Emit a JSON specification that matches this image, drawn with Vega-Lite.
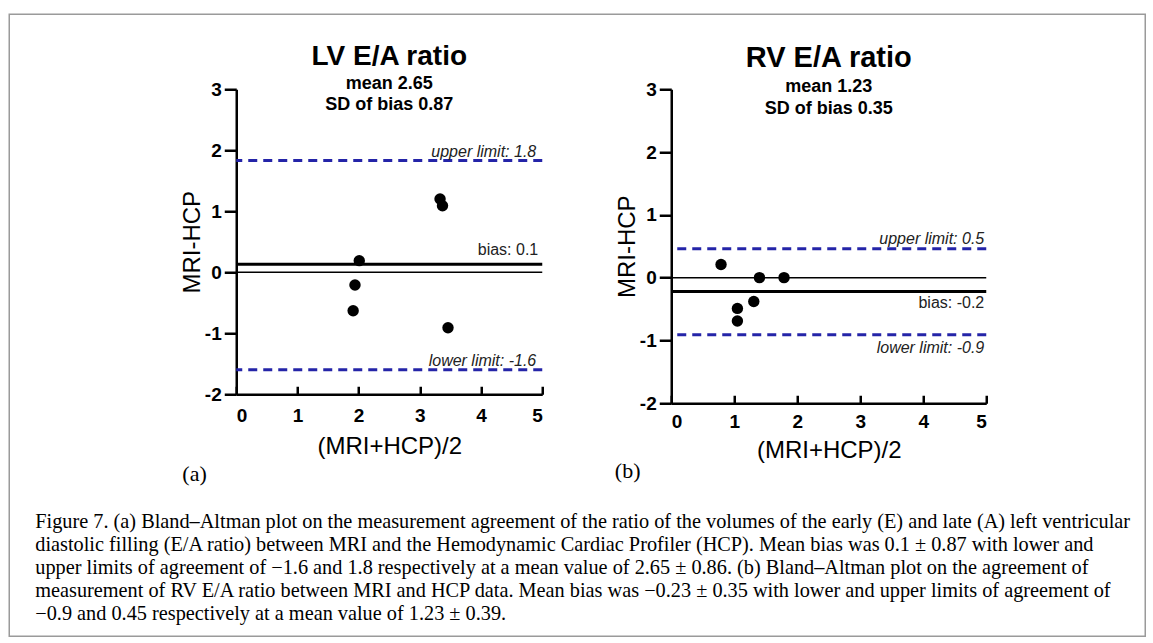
{
  "$schema": "https://vega.github.io/schema/vega-lite/v6.json",
  "bounds": "flush",
  "padding": {"left": 8.25, "top": 13.25, "right": 6, "bottom": 6},
  "background": "white",
  "spacing": 227,
  "datasets": {
    "pointsA": [
      {"mean": 1.91, "diff": -0.63},
      {"mean": 1.94, "diff": -0.21},
      {"mean": 2.01, "diff": 0.19},
      {"mean": 3.33, "diff": 1.2},
      {"mean": 3.37, "diff": 1.09},
      {"mean": 3.46, "diff": -0.91}
    ],
    "linesA": [
      {"kind": "zero", "y": 0, "label": ""},
      {"kind": "bias", "y": 0.13, "label": "bias: 0.1"},
      {"kind": "upper", "y": 1.83, "label": "upper limit: 1.8"},
      {"kind": "lower", "y": -1.6, "label": "lower limit: -1.6"}
    ],
    "pointsB": [
      {"mean": 0.79, "diff": 0.21},
      {"mean": 1.05, "diff": -0.49},
      {"mean": 1.05, "diff": -0.69},
      {"mean": 1.31, "diff": -0.38},
      {"mean": 1.4, "diff": 0.0},
      {"mean": 1.79, "diff": 0.0}
    ],
    "linesB": [
      {"kind": "zero", "y": 0, "label": ""},
      {"kind": "bias", "y": -0.22, "label": "bias: -0.2"},
      {"kind": "upper", "y": 0.46, "label": "upper limit: 0.5"},
      {"kind": "lower", "y": -0.91, "label": "lower limit: -0.9"}
    ],
    "figure": [{"part": "figure frame"}],
    "none": []
  },
  "hconcat": [
    {
      "vconcat": [
        {
          "width": 1136,
          "height": 622,
          "data": {"name": "figure"},
          "mark": {"type": "rect", "fill": "white", "stroke": "#9a9a9a", "strokeWidth": 1.5},
          "title": {
            "text": [
              "Figure 7. (a) Bland–Altman plot on the measurement agreement of the ratio of the volumes of the early (E) and late (A) left ventricular",
              "diastolic filling (E/A ratio) between MRI and the Hemodynamic Cardiac Profiler (HCP). Mean bias was 0.1 ± 0.87 with lower and",
              "upper limits of agreement of −1.6 and 1.8 respectively at a mean value of 2.65 ± 0.86. (b) Bland–Altman plot on the agreement of",
              "measurement of RV E/A ratio between MRI and HCP data. Mean bias was −0.23 ± 0.35 with lower and upper limits of agreement of",
              "−0.9 and 0.45 respectively at a mean value of 1.23 ± 0.39."
            ],
            "orient": "bottom",
            "anchor": "start",
            "frame": "group",
            "align": "left",
            "offset": -125,
            "dx": 26,
            "font": "Liberation Serif",
            "fontSize": 20.3,
            "fontWeight": "normal",
            "lineHeight": 23,
            "color": "black"
          }
        }
      ]
    },
    {
      "spacing": 28,
      "vconcat": [
        {
          "vconcat": [
            {"width": 1, "height": 1, "data": {"name": "none"}, "mark": {"type": "point"}}
          ]
        },
        {
          "spacing": 70,
          "hconcat": [
            {
              "title": {"text": "(a)", "orient": "bottom", "anchor": "start", "font": "Liberation Serif", "fontSize": 22, "fontWeight": "normal", "offset": 6, "dx": 2, "color": "black"},
              "vconcat": [
                {
                  "width": 306,
                  "height": 305,
                  "title": {
                    "text": "LV E/A ratio",
                    "subtitle": ["mean 2.65", "SD of bias 0.87"],
                    "anchor": "middle",
                    "frame": "group",
                    "font": "Liberation Sans",
                    "fontSize": 28,
                    "fontWeight": "bold",
                    "color": "black",
                    "subtitleFont": "Liberation Sans",
                    "subtitleFontSize": 18,
                    "subtitleFontWeight": "bold",
                    "subtitleColor": "black",
                    "subtitleLineHeight": 21,
                    "subtitlePadding": 4,
                    "offset": -34
                  },
                  "layer": [
                    {
                      "data": {"name": "linesA"},
                      "transform": [{"filter": "datum.kind === 'zero'"}],
                      "mark": {"type": "rule", "color": "black", "strokeWidth": 1.5},
                      "encoding": {"y": {"field": "y", "type": "quantitative", "scale": {"domain": [-2, 3], "nice": false, "zero": false}, "title": "MRI-HCP"}}
                    },
                    {
                      "data": {"name": "linesA"},
                      "transform": [{"filter": "datum.kind === 'bias'"}],
                      "mark": {"type": "rule", "color": "black", "strokeWidth": 3},
                      "encoding": {"y": {"field": "y", "type": "quantitative", "scale": {"domain": [-2, 3], "nice": false, "zero": false}, "title": "MRI-HCP"}}
                    },
                    {
                      "data": {"name": "linesA"},
                      "transform": [{"filter": "datum.kind === 'upper' || datum.kind === 'lower'"}],
                      "mark": {"type": "rule", "color": "#2424a8", "strokeWidth": 3, "strokeDash": [9, 6]},
                      "encoding": {"y": {"field": "y", "type": "quantitative", "scale": {"domain": [-2, 3], "nice": false, "zero": false}, "title": "MRI-HCP"}}
                    },
                    {
                      "data": {"name": "linesA"},
                      "transform": [{"filter": "datum.kind === 'upper' || datum.kind === 'lower'"}],
                      "mark": {"type": "text", "align": "right", "baseline": "alphabetic", "dx": -6, "dy": -4, "font": "Liberation Sans", "fontSize": 16, "fontStyle": "italic", "color": "#222222"},
                      "encoding": {
                        "x": {"datum": 5, "type": "quantitative"},
                        "y": {"field": "y", "type": "quantitative", "scale": {"domain": [-2, 3], "nice": false, "zero": false}, "title": "MRI-HCP"},
                        "text": {"field": "label"}
                      }
                    },
                    {
                      "data": {"name": "linesA"},
                      "transform": [{"filter": "datum.kind === 'bias'"}],
                      "mark": {"type": "text", "align": "right", "baseline": "alphabetic", "dx": -4, "dy": -9, "font": "Liberation Sans", "fontSize": 16, "color": "#222222"},
                      "encoding": {
                        "x": {"datum": 5, "type": "quantitative"},
                        "y": {"field": "y", "type": "quantitative", "scale": {"domain": [-2, 3], "nice": false, "zero": false}, "title": "MRI-HCP"},
                        "text": {"field": "label"}
                      }
                    },
                    {
                      "data": {"name": "pointsA"},
                      "mark": {"type": "circle", "size": 130, "color": "black", "opacity": 1},
                      "encoding": {
                        "x": {"field": "mean", "type": "quantitative", "scale": {"domain": [0, 5], "nice": false, "zero": false}, "title": "(MRI+HCP)/2", "axis": {"values": [0, 1, 2, 3, 4, 5]}},
                        "y": {"field": "diff", "type": "quantitative", "scale": {"domain": [-2, 3], "nice": false, "zero": false}, "title": "MRI-HCP", "axis": {"values": [-2, -1, 0, 1, 2, 3]}}
                      }
                    }
                  ]
                }
              ]
            },
            {
              "title": {"text": "(b)", "orient": "bottom", "anchor": "start", "font": "Liberation Serif", "fontSize": 22, "fontWeight": "normal", "offset": -1, "dx": -0.5, "color": "black"},
              "vconcat": [
                {
                  "width": 315,
                  "height": 314,
                  "title": {
                    "text": "RV E/A ratio",
                    "subtitle": ["mean 1.23", "SD of bias 0.35"],
                    "anchor": "middle",
                    "frame": "group",
                    "font": "Liberation Sans",
                    "fontSize": 29,
                    "fontWeight": "bold",
                    "color": "black",
                    "subtitleFont": "Liberation Sans",
                    "subtitleFontSize": 18,
                    "subtitleFontWeight": "bold",
                    "subtitleColor": "black",
                    "subtitleLineHeight": 22,
                    "subtitlePadding": 5,
                    "offset": -38
                  },
                  "layer": [
                    {
                      "data": {"name": "linesB"},
                      "transform": [{"filter": "datum.kind === 'zero'"}],
                      "mark": {"type": "rule", "color": "black", "strokeWidth": 1.5},
                      "encoding": {"y": {"field": "y", "type": "quantitative", "scale": {"domain": [-2, 3], "nice": false, "zero": false}, "title": "MRI-HCP"}}
                    },
                    {
                      "data": {"name": "linesB"},
                      "transform": [{"filter": "datum.kind === 'bias'"}],
                      "mark": {"type": "rule", "color": "black", "strokeWidth": 3},
                      "encoding": {"y": {"field": "y", "type": "quantitative", "scale": {"domain": [-2, 3], "nice": false, "zero": false}, "title": "MRI-HCP"}}
                    },
                    {
                      "data": {"name": "linesB"},
                      "transform": [{"filter": "datum.kind === 'upper' || datum.kind === 'lower'"}],
                      "mark": {"type": "rule", "color": "#2424a8", "strokeWidth": 3, "strokeDash": [9, 6]},
                      "encoding": {"y": {"field": "y", "type": "quantitative", "scale": {"domain": [-2, 3], "nice": false, "zero": false}, "title": "MRI-HCP"}}
                    },
                    {
                      "data": {"name": "linesB"},
                      "transform": [{"filter": "datum.kind === 'upper'"}],
                      "mark": {"type": "text", "align": "right", "baseline": "alphabetic", "dx": -2, "dy": -5, "font": "Liberation Sans", "fontSize": 16, "fontStyle": "italic", "color": "#222222"},
                      "encoding": {
                        "x": {"datum": 5, "type": "quantitative"},
                        "y": {"field": "y", "type": "quantitative", "scale": {"domain": [-2, 3], "nice": false, "zero": false}, "title": "MRI-HCP"},
                        "text": {"field": "label"}
                      }
                    },
                    {
                      "data": {"name": "linesB"},
                      "transform": [{"filter": "datum.kind === 'lower'"}],
                      "mark": {"type": "text", "align": "right", "baseline": "top", "dx": -2, "dy": 5, "font": "Liberation Sans", "fontSize": 16, "fontStyle": "italic", "color": "#222222"},
                      "encoding": {
                        "x": {"datum": 5, "type": "quantitative"},
                        "y": {"field": "y", "type": "quantitative", "scale": {"domain": [-2, 3], "nice": false, "zero": false}, "title": "MRI-HCP"},
                        "text": {"field": "label"}
                      }
                    },
                    {
                      "data": {"name": "linesB"},
                      "transform": [{"filter": "datum.kind === 'bias'"}],
                      "mark": {"type": "text", "align": "right", "baseline": "top", "dx": -2, "dy": 4, "font": "Liberation Sans", "fontSize": 16, "color": "#222222"},
                      "encoding": {
                        "x": {"datum": 5, "type": "quantitative"},
                        "y": {"field": "y", "type": "quantitative", "scale": {"domain": [-2, 3], "nice": false, "zero": false}, "title": "MRI-HCP"},
                        "text": {"field": "label"}
                      }
                    },
                    {
                      "data": {"name": "pointsB"},
                      "mark": {"type": "circle", "size": 130, "color": "black", "opacity": 1},
                      "encoding": {
                        "x": {"field": "mean", "type": "quantitative", "scale": {"domain": [0, 5], "nice": false, "zero": false}, "title": "(MRI+HCP)/2", "axis": {"values": [0, 1, 2, 3, 4, 5], "labelPadding": 17, "titlePadding": 7}},
                        "y": {"field": "diff", "type": "quantitative", "scale": {"domain": [-2, 3], "nice": false, "zero": false}, "title": "MRI-HCP", "axis": {"values": [-2, -1, 0, 1, 2, 3]}}
                      }
                    }
                  ]
                }
              ]
            }
          ]
        }
      ]
    }
  ],
  "config": {
    "view": {"stroke": null},
    "font": "Liberation Sans",
    "axis": {
      "grid": false,
      "domainColor": "black",
      "domainWidth": 2.5,
      "tickColor": "black",
      "tickWidth": 2.5,
      "labelFont": "Liberation Sans",
      "labelFontWeight": "bold",
      "labelFontSize": 19,
      "labelColor": "black",
      "labelExpr": "'' + datum.value",
      "titleFont": "Liberation Sans",
      "titleFontWeight": "normal",
      "titleFontSize": 24,
      "titleColor": "black"
    },
    "axisX": {"tickSize": -8, "labelPadding": 20, "titlePadding": 9},
    "axisY": {"tickSize": 12, "labelPadding": 3, "titlePadding": 0}
  }
}
